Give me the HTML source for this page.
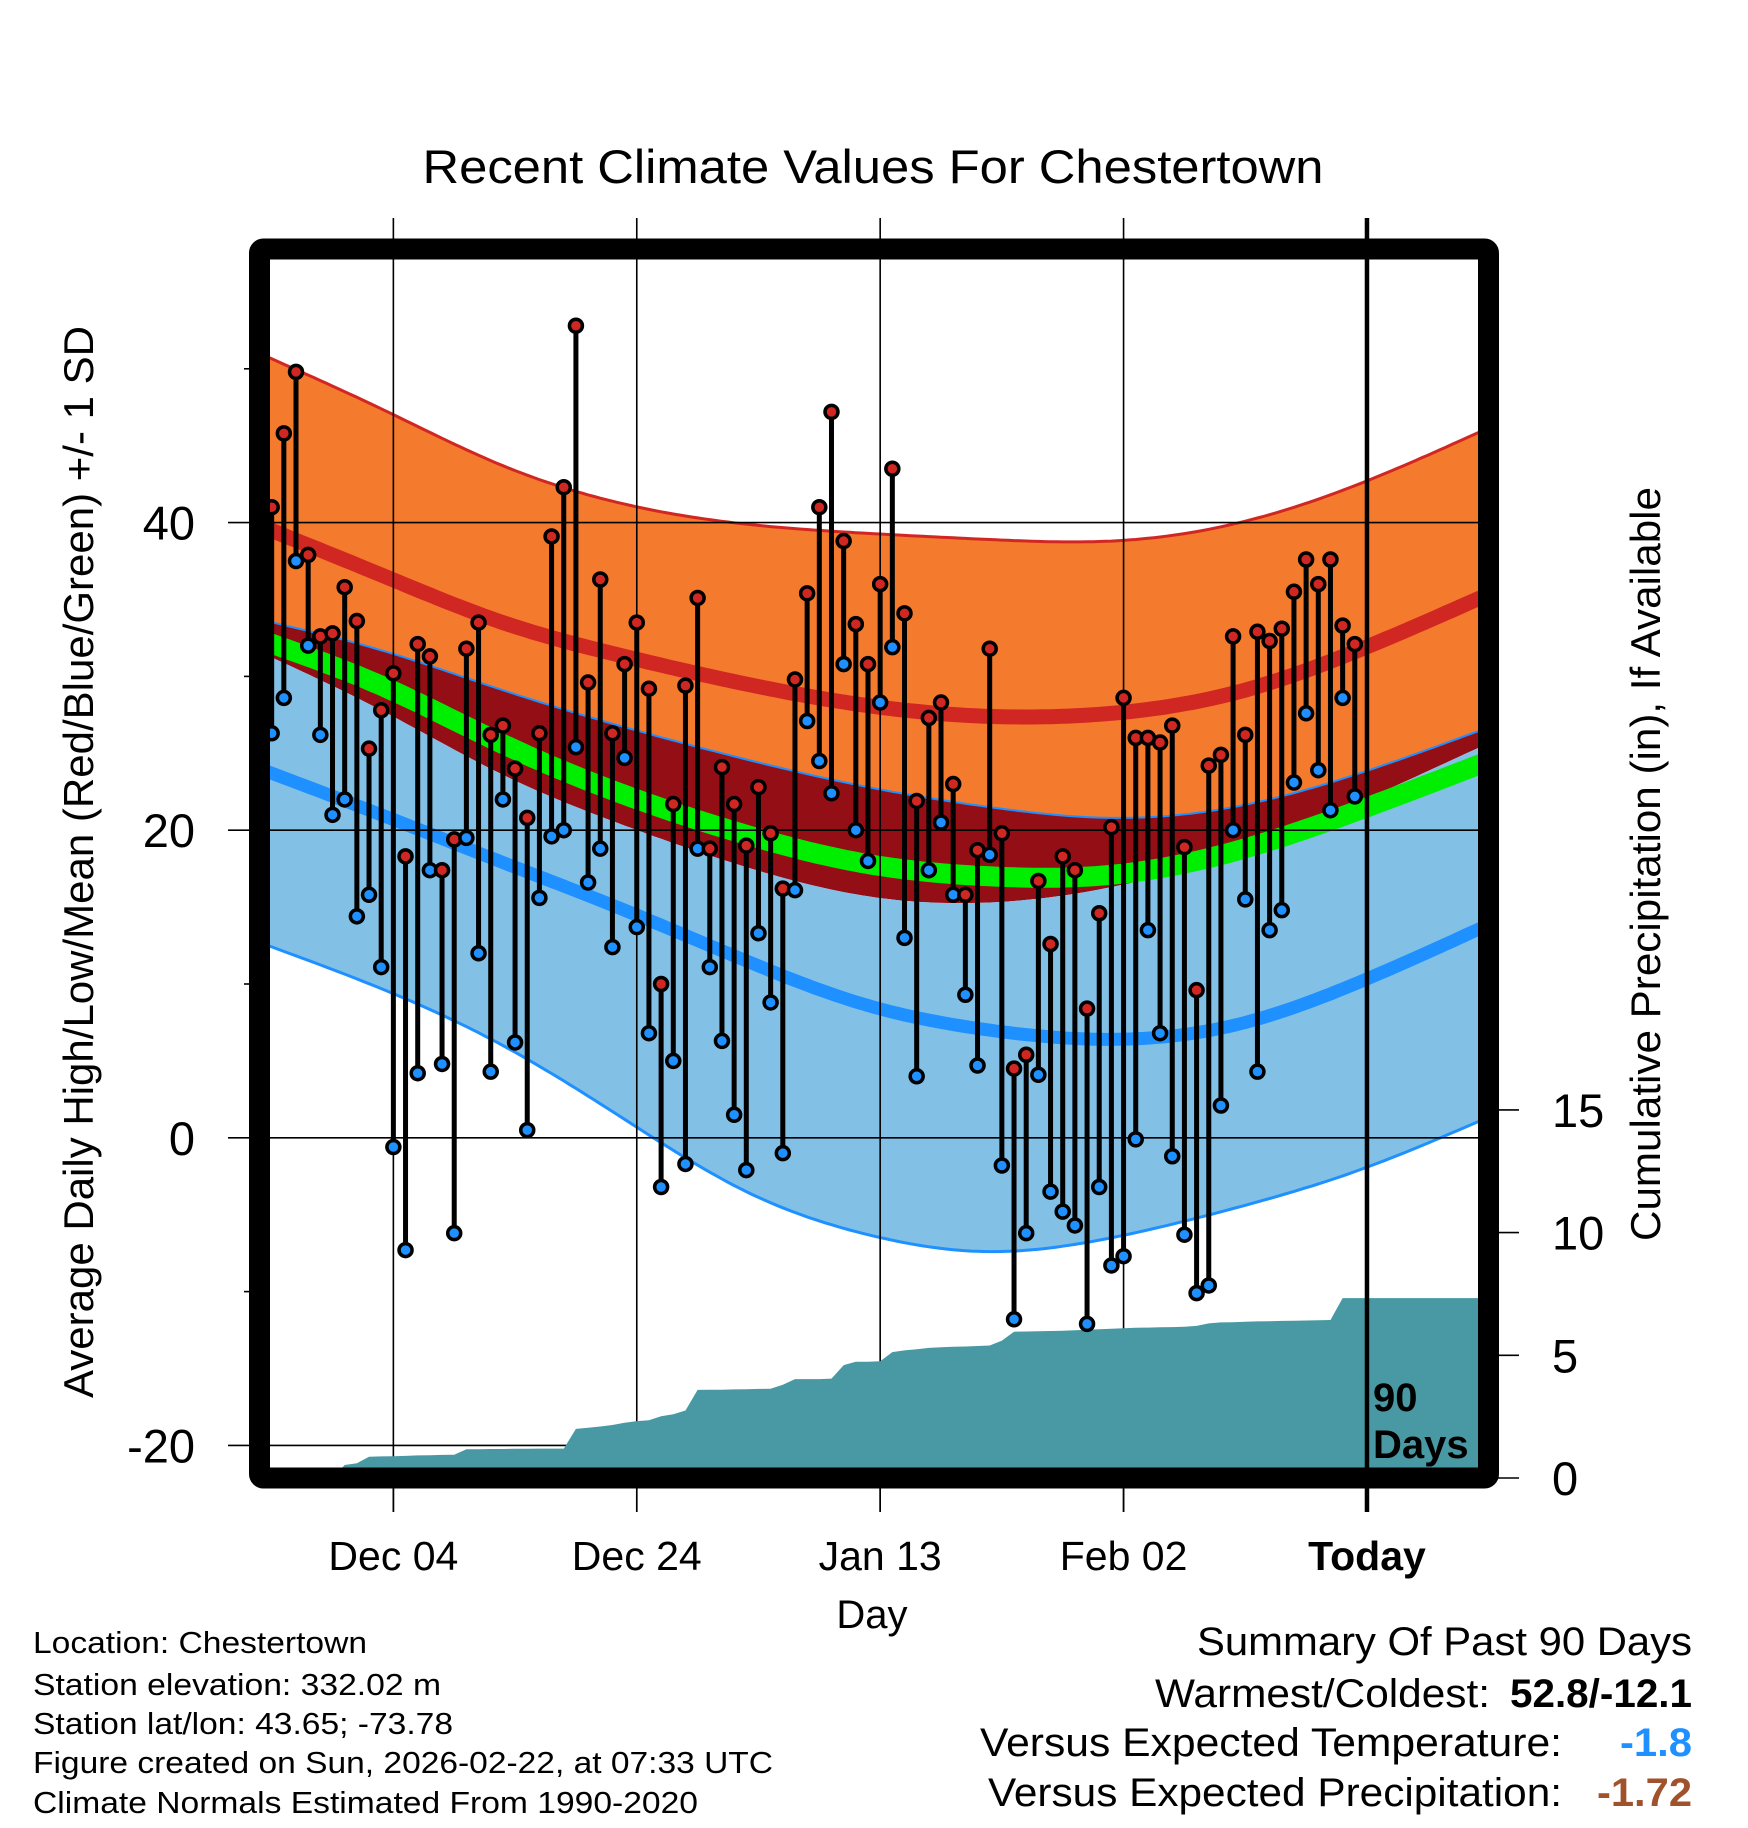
<!DOCTYPE html>
<html><head><meta charset="utf-8"><style>
html,body{margin:0;padding:0;background:#fff;}
svg{display:block;font-family:"Liberation Sans",Arial,sans-serif;}
</style></head><body>
<svg id="chart" width="1748" height="1828" viewBox="0 0 1748 1828" xmlns="http://www.w3.org/2000/svg">
<defs><clipPath id="plotclip"><rect x="259.5" y="249" width="1229" height="1229"/></clipPath></defs>
<g id="bands" clip-path="url(#plotclip)"></g>
<g id="grid"></g>
<g id="precip" clip-path="url(#plotclip)"></g>
<g id="marks" clip-path="url(#plotclip)"></g>
<g id="axes"></g>
<text x="873" y="183" font-size="47" text-anchor="middle" textLength="901" lengthAdjust="spacingAndGlyphs">Recent Climate Values For Chestertown</text>
<text transform="translate(93,862) rotate(-90)" font-size="42" text-anchor="middle" textLength="1072" lengthAdjust="spacingAndGlyphs">Average Daily High/Low/Mean (Red/Blue/Green) +/- 1 SD</text>
<text transform="translate(1660,864) rotate(-90)" font-size="42" text-anchor="middle" textLength="754" lengthAdjust="spacingAndGlyphs">Cumulative Precipitation (in), If Available</text>
<text x="872" y="1628" font-size="40" text-anchor="middle">Day</text>
<g font-size="31">
<text x="33" y="1653" textLength="334" lengthAdjust="spacingAndGlyphs">Location: Chestertown</text>
<text x="33" y="1695" textLength="408" lengthAdjust="spacingAndGlyphs">Station elevation: 332.02 m</text>
<text x="33" y="1734" textLength="420" lengthAdjust="spacingAndGlyphs">Station lat/lon: 43.65; -73.78</text>
<text x="33" y="1773" textLength="740" lengthAdjust="spacingAndGlyphs">Figure created on Sun, 2026-02-22, at 07:33 UTC</text>
<text x="33" y="1813" textLength="665" lengthAdjust="spacingAndGlyphs">Climate Normals Estimated From 1990-2020</text>
</g>
<g font-size="40">
<text x="1692" y="1655" text-anchor="end" textLength="495" lengthAdjust="spacingAndGlyphs">Summary Of Past 90 Days</text>
<text x="1490" y="1707" text-anchor="end" textLength="335" lengthAdjust="spacingAndGlyphs">Warmest/Coldest:</text>
<text x="1692" y="1707" text-anchor="end" font-weight="bold" textLength="182" lengthAdjust="spacingAndGlyphs">52.8/-12.1</text>
<text x="1562" y="1756" text-anchor="end" textLength="582" lengthAdjust="spacingAndGlyphs">Versus Expected Temperature:</text>
<text x="1692" y="1756" text-anchor="end" font-weight="bold" fill="#1e90ff" textLength="72" lengthAdjust="spacingAndGlyphs">-1.8</text>
<text x="1562" y="1806" text-anchor="end" textLength="574" lengthAdjust="spacingAndGlyphs">Versus Expected Precipitation:</text>
<text x="1692" y="1806" text-anchor="end" font-weight="bold" fill="#a0522d" textLength="95" lengthAdjust="spacingAndGlyphs">-1.72</text>
</g>
</svg>
<script>
// ---- data ----
const normalDays = [0,10,20,30,40,50,60,70,80,90,100];
const hiPlusSD  = [51.0,47.4,43.7,41.2,39.9,39.3,38.9,38.8,39.9,42.4,45.8];
const hiMean    = [39.8,36.6,33.5,31.3,29.5,28.1,27.4,27.6,28.9,31.6,35.0];
const hiMinusSD = [33.7,31.7,29.1,26.7,24.6,22.8,21.5,20.8,21.5,23.6,26.4];
const meanTemp  = [32.4,29.4,25.6,22.3,19.7,17.8,17.0,17.1,18.6,21.2,24.2];
const loPlusSD  = [31.6,27.8,23.6,20.3,17.6,15.7,15.3,16.3,18.5,21.7,25.3];
const loMean    = [24.0,21.0,17.9,14.8,11.5,8.6,7.0,6.4,7.3,10.0,13.5];
const loMinusSD = [12.7,9.7,6.0,1.2,-3.5,-6.3,-7.4,-6.5,-4.6,-2.2,1.0];
const dailyHigh = [41,45.8,49.8,37.9,32.6,32.8,35.8,33.6,25.3,27.8,30.2,18.3,32.1,31.3,17.4,19.4,31.8,33.5,26.2,26.8,24,20.8,26.3,39.1,42.3,52.8,29.6,36.3,26.3,30.8,33.5,29.2,10,21.7,29.4,35.1,18.8,24.1,21.7,19,22.8,19.8,16.2,29.8,35.4,41,47.2,38.8,33.4,30.8,36,43.5,34.1,21.9,27.3,28.3,23,15.8,18.7,31.8,19.8,4.5,5.4,16.7,12.6,18.3,17.4,8.4,14.6,20.2,28.6,26,26,25.7,26.8,18.9,9.6,24.2,24.9,32.6,26.2,32.9,32.3,33.1,35.5,37.6,36,37.6,33.3,32.1];
const dailyLow  = [26.3,28.6,37.5,32,26.2,21,22,14.4,15.8,11.1,-0.6,-7.3,4.2,17.4,4.8,-6.2,19.5,12,4.3,22,6.2,0.5,15.6,19.6,20,25.4,16.6,18.8,12.4,24.7,13.7,6.8,-3.2,5,-1.7,18.8,11.1,6.3,1.5,-2.1,13.3,8.8,-1,16.1,27.1,24.5,22.4,30.8,20,18,28.3,31.9,13,4,17.4,20.5,15.8,9.3,4.7,18.4,-1.8,-11.8,-6.2,4.1,-3.5,-4.8,-5.7,-12.1,-3.2,-8.3,-7.7,-0.1,13.5,6.8,-1.2,-6.3,-10.1,-9.6,2.1,20,15.5,4.3,13.5,14.8,23.1,27.6,23.9,21.3,28.6,22.2];
const cumPrecip = [0,0,0,0,0,0,0.53,0.6,0.87,0.88,0.89,0.9,0.92,0.93,0.94,0.95,1.17,1.17,1.18,1.18,1.19,1.19,1.2,1.2,1.2,2.0,2.05,2.1,2.16,2.25,2.32,2.35,2.52,2.6,2.75,3.59,3.6,3.6,3.61,3.62,3.63,3.64,3.8,4.03,4.03,4.03,4.05,4.6,4.74,4.74,4.76,5.13,5.2,5.25,5.3,5.33,5.35,5.36,5.38,5.4,5.6,5.96,5.97,5.98,5.99,6.0,6.02,6.04,6.06,6.08,6.1,6.12,6.13,6.14,6.15,6.16,6.2,6.3,6.34,6.35,6.37,6.38,6.39,6.4,6.41,6.42,6.43,6.44,7.33,7.33];
const tempTicks = [-20,0,20,40];
const tempMinorTicks = [-10,10,30,50];
const precipTicks = [0,5,10,15];
const dateLabels = ['Dec 04','Dec 24','Jan 13','Feb 02','Today'];
const dateDays = [11,31,51,71,91];

// ---- scales ----
const X0=259.5, X1=1488.5, Y0=249, Y1=1478;
const xDay = d => X0 + d*12.17;
const yT = t => 522.6 - (t-40)*15.38;
const yP = p => Y1 - p*24.54;
const NS='http://www.w3.org/2000/svg';
function mk(tag, parent){const e=document.createElementNS(NS,tag);parent.appendChild(e);return e;}

// natural cubic spline through the normal samples
function splineFn(xs, ys){
  const n=xs.length, h=[], a=[], l=[1], mu=[0], z=[0], c=new Array(n).fill(0), b=[], d=[];
  for(let i=0;i<n-1;i++) h.push(xs[i+1]-xs[i]);
  for(let i=1;i<n-1;i++) a[i]=3/h[i]*(ys[i+1]-ys[i])-3/h[i-1]*(ys[i]-ys[i-1]);
  for(let i=1;i<n-1;i++){l[i]=2*(xs[i+1]-xs[i-1])-h[i-1]*mu[i-1];mu[i]=h[i]/l[i];z[i]=(a[i]-h[i-1]*z[i-1])/l[i];}
  l[n-1]=1;z[n-1]=0;c[n-1]=0;
  for(let j=n-2;j>=0;j--){c[j]=z[j]-mu[j]*c[j+1];b[j]=(ys[j+1]-ys[j])/h[j]-h[j]*(c[j+1]+2*c[j])/3;d[j]=(c[j+1]-c[j])/(3*h[j]);}
  return x=>{let j=0;while(j<n-2&&x>xs[j+1])j++;const t=x-xs[j];return ys[j]+b[j]*t+c[j]*t*t+d[j]*t*t*t;};
}
function curvePts(arr){const f=splineFn(normalDays,arr);const pts=[];for(let d=0;d<=101;d+=0.5){pts.push([xDay(d),yT(f(d))]);}return pts;}
function pstr(pts){return pts.map(p=>p[0].toFixed(1)+','+p[1].toFixed(1)).join(' ');}

const bands=document.getElementById('bands');
function band(top,bot,fill,name){
  const a=curvePts(top), b=curvePts(bot).reverse();
  const e=mk('polygon',bands);
  
  
  e.setAttribute('points',pstr(a.concat(b)));e.setAttribute('fill',fill);
}
function line(arr,color,w,name){
  const e=mk('polyline',bands);
  
  
  e.setAttribute('points',pstr(curvePts(arr)));e.setAttribute('fill','none');e.setAttribute('stroke',color);e.setAttribute('stroke-width',w);
}
band(hiPlusSD,hiMinusSD,'#f47a2e','high-sd-band');
band(hiMinusSD,loPlusSD,'#940f15','overlap-band');
band(loPlusSD,loMinusSD,'#82c0e6','low-sd-band');
line(hiMean,'#d12723',15,'mean-high-line');
line(loMean,'#1e90ff',13,'mean-low-line');
line(meanTemp,'#00ee00',20,'mean-temp-line');
line(hiPlusSD,'#d12723',3,'high-plus-sd-edge');
line(hiMinusSD,'#1e90ff',2,'high-minus-sd-edge');
line(loMinusSD,'#1e90ff',3,'low-minus-sd-edge');

// grid
const grid=document.getElementById('grid');
dateDays.slice(0,4).forEach(d=>{
  const e=mk('line',grid);
  
  
  e.setAttribute('x1',xDay(d));e.setAttribute('x2',xDay(d));e.setAttribute('y1',218);e.setAttribute('y2',1512);
  e.setAttribute('stroke','#000');e.setAttribute('stroke-width',1.6);
});
tempTicks.forEach(t=>{
  const e=mk('line',grid);
  
  
  e.setAttribute('x1',228);e.setAttribute('x2',X1);e.setAttribute('y1',yT(t));e.setAttribute('y2',yT(t));
  e.setAttribute('stroke','#000');e.setAttribute('stroke-width',1.6);
});

// precip
const pg=document.getElementById('precip');
{
  const pts=[[X0,Y1+10],[X0,yP(0)]];
  cumPrecip.forEach((v,i)=>pts.push([xDay(i+1),yP(v)]));
  pts.push([X1+10,yP(cumPrecip[cumPrecip.length-1])]);pts.push([X1+10,Y1+10]);
  const e=mk('polygon',pg);
  
  
  e.setAttribute('points',pstr(pts));e.setAttribute('fill','#4899a3');
}

// stems & dots
const mg=document.getElementById('marks');
dailyHigh.forEach((h,i)=>{
  const x=xDay(i+1), l=dailyLow[i];
  const s=mk('line',mg);
  
  
  s.setAttribute('x1',x);s.setAttribute('x2',x);s.setAttribute('y1',yT(h));s.setAttribute('y2',yT(l));
  s.setAttribute('stroke','#000');s.setAttribute('stroke-width',5);
});
dailyHigh.forEach((h,i)=>{
  const x=xDay(i+1), l=dailyLow[i];
  const b=mk('circle',mg);
  
  
  b.setAttribute('cx',x);b.setAttribute('cy',yT(l));b.setAttribute('r',6.5);b.setAttribute('fill','#1e90ff');b.setAttribute('stroke','#000');b.setAttribute('stroke-width',3.5);
  const r=mk('circle',mg);
  
  
  r.setAttribute('cx',x);r.setAttribute('cy',yT(h));r.setAttribute('r',6.5);r.setAttribute('fill','#d12723');r.setAttribute('stroke','#000');r.setAttribute('stroke-width',3.5);
});

// axes
const ax=document.getElementById('axes');
{
  const t=mk('line',ax);
  
  
  t.setAttribute('x1',xDay(91));t.setAttribute('x2',xDay(91));t.setAttribute('y1',218);t.setAttribute('y2',1512);
  t.setAttribute('stroke','#000');t.setAttribute('stroke-width',4.5);
  const f=mk('rect',ax);
  
  
  f.setAttribute('x',X0);f.setAttribute('y',Y0);f.setAttribute('width',X1-X0);f.setAttribute('height',Y1-Y0);
  f.setAttribute('rx',4);f.setAttribute('fill','none');f.setAttribute('stroke','#000');f.setAttribute('stroke-width',21);
  const d1=mk('text',ax);
  
  
  d1.setAttribute('x',1373);d1.setAttribute('y',1411);d1.setAttribute('font-size',40);d1.setAttribute('font-weight','bold');d1.textContent='90';
  const d2=mk('text',ax);
  
  
  d2.setAttribute('x',1373);d2.setAttribute('y',1458);d2.setAttribute('font-size',40);d2.setAttribute('font-weight','bold');d2.textContent='Days';
}
tempTicks.forEach(t=>{
  const e=mk('text',ax);
  
  
  e.setAttribute('x',195);e.setAttribute('y',yT(t)+17);e.setAttribute('font-size',47);e.setAttribute('text-anchor','end');
  e.textContent=String(t);
});
tempMinorTicks.forEach(t=>{
  const e=mk('line',ax);
  
  
  e.setAttribute('x1',244);e.setAttribute('x2',252);e.setAttribute('y1',yT(t));e.setAttribute('y2',yT(t));
  e.setAttribute('stroke','#000');e.setAttribute('stroke-width',1.6);
});
precipTicks.forEach(p=>{
  const e=mk('line',ax);
  
  
  e.setAttribute('x1',X1);e.setAttribute('x2',1519);e.setAttribute('y1',yP(p));e.setAttribute('y2',yP(p));
  e.setAttribute('stroke','#000');e.setAttribute('stroke-width',1.6);
  const t=mk('text',ax);
  
  
  t.setAttribute('x',1552);t.setAttribute('y',yP(p)+17);t.setAttribute('font-size',47);
  t.textContent=String(p);
});
dateLabels.forEach((lab,i)=>{
  const t=mk('line',ax);
  
  
  t.setAttribute('x1',xDay(dateDays[i]));t.setAttribute('x2',xDay(dateDays[i]));t.setAttribute('y1',1478);t.setAttribute('y2',1512);
  t.setAttribute('stroke','#000');t.setAttribute('stroke-width',1.6);
  const e=mk('text',ax);
  
  
  e.setAttribute('x',xDay(dateDays[i]));e.setAttribute('y',1570);e.setAttribute('font-size',41);e.setAttribute('text-anchor','middle');
  if(lab==='Today') e.setAttribute('font-weight','bold');
  e.textContent=lab;
});
</script>
</body></html>
